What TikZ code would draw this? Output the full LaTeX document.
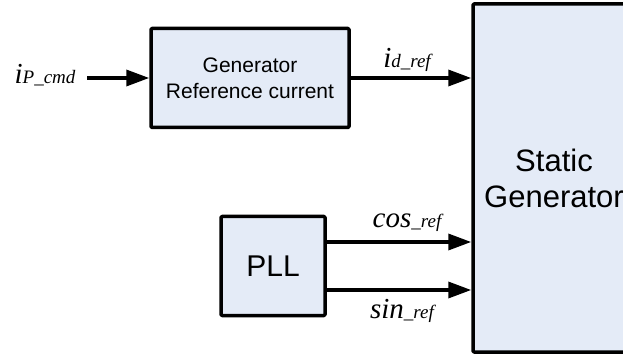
\documentclass[tikz,border=0pt]{standalone}
\usepackage{fontspec}
\setmainfont{Liberation Serif}
\newfontfamily\arial{Liberation Sans}
\usetikzlibrary{arrows.meta}
\definecolor{boxfill}{RGB}{228,235,247}
\begin{document}
\begin{tikzpicture}[x=1pt, y=-1pt, line join=round,
	blk/.style={draw, line width=3.5pt, fill=boxfill, rounded corners=1pt, align=center, inner sep=0pt, font=\arial},
	sig/.style={line width=3.5pt, -{Triangle[length=23pt,width=16pt]}},
	lbl/.style={inner sep=0pt, anchor=base}]
	\useasboundingbox (0,0) rectangle (623,355);
	\clip (0,0) rectangle (623,355);
	\node[blk, minimum width=198pt, minimum height=99pt, font=\arial\fontsize{21}{26}\selectfont] (gen) at (250,78) {Generator\\Reference current};
	\node[blk, minimum width=104pt, minimum height=99pt, font=\arial\fontsize{30}{30}\selectfont] (pll) at (273,266) {PLL};
	\node[blk, minimum width=162pt, minimum height=348pt, font=\arial\fontsize{31}{36}\selectfont] (sg) at (554,178) {Static\\Generator};
	\coordinate (in) at (87,78);
	\draw[sig] (in) -- (gen.west);
	\draw[sig] (gen.east) -- (gen.east -| sg.west);
	\draw[sig] ([yshift=24pt]pll.east) coordinate (c0) -- (c0 -| sg.west);
	\draw[sig] ([yshift=-24pt]pll.east) coordinate (s0) -- (s0 -| sg.west);
	% signal names
	\node[lbl] (ip) at (45,84) {\itshape\fontsize{29}{29}\selectfont i\fontsize{19}{19}\selectfont P\_cmd};
	\node[lbl] (idr) at (407,68) {\itshape\fontsize{29}{29}\selectfont i\fontsize{19}{19}\selectfont d\_ref};
	\node[lbl] (cosr) at (407,228) {\itshape\fontsize{29}{29}\selectfont cos\fontsize{19}{19}\selectfont\_ref};
	\node[lbl] (sinr) at (402,318) {\itshape\fontsize{29}{29}\selectfont sin\fontsize{19}{19}\selectfont\_ref};
\end{tikzpicture}
\end{document}
